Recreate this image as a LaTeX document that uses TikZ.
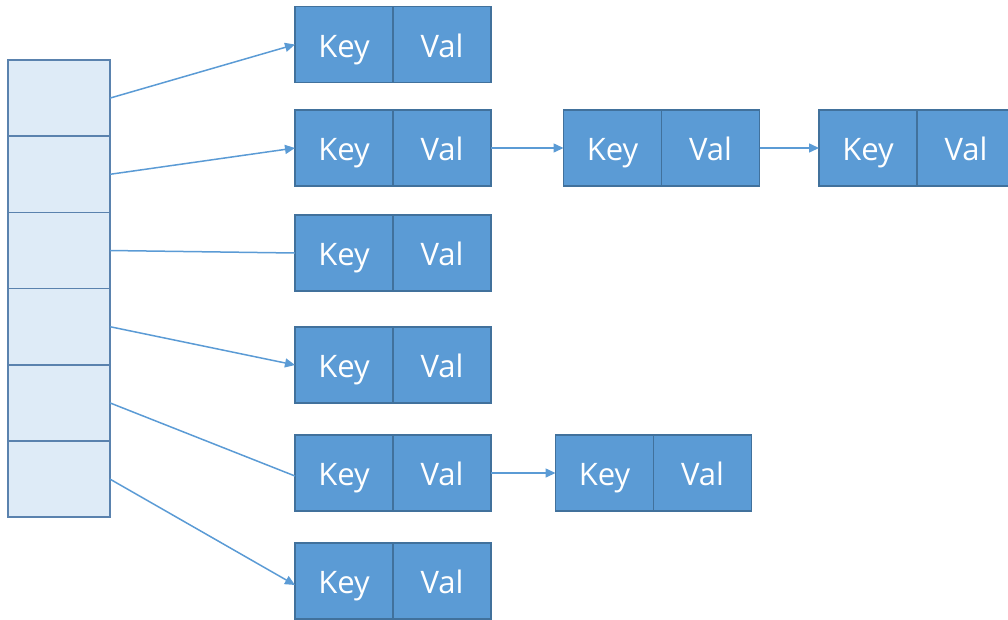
\documentclass[tikz,border=0pt]{standalone}
\usepackage{fontspec}
\setmainfont{Open Sans}
\usetikzlibrary{arrows.meta}
\definecolor{boxfill}{HTML}{5B9BD5}
\definecolor{boxline}{HTML}{41719C}
\definecolor{arrfill}{HTML}{DEEBF7}
\definecolor{arrline}{HTML}{5A82AE}
\definecolor{conn}{HTML}{5B9BD5}
\tikzset{
  cell/.style={draw=boxline, fill=boxfill, line width=1.2pt, minimum width=98pt, minimum height=76pt,
    inner sep=0pt, outer sep=0pt, text=white, font=\fontsize{31}{34}\selectfont,
    text height=30pt, text depth=5pt},
  slot/.style={draw=arrline, fill=arrfill, line width=1.5pt, minimum width=102pt, minimum height=76.2pt,
    inner sep=0pt, outer sep=0pt},
  link/.style={draw=conn, line width=1.5pt},
  linka/.style={link, -{Triangle[length=10pt,width=9pt]}}
}
\begin{document}
\begin{tikzpicture}[x=1pt,y=-1pt]
\useasboundingbox (0,0) rectangle (1008,619);
% array slots
\foreach \i/\t in {1/60,2/136.2,3/212.4,4/288.6,5/364.8,6/441}{
  \node[slot] (a\i) at (59,\t+38.1) {};
}
% first-column buckets
\foreach \i/\t in {1/6.5,2/110,3/215,4/327,5/435,6/543}{
  \node[cell] (k\i) at (344,\t+38) {Key};
  \node[cell] (v\i) at (442,\t+38) {Val};
}
% chain on row 2
\node[cell] (k22) at (612.5,148) {Key};
\node[cell] (v22) at (710.5,148) {Val};
\node[cell] (k23) at (868,148) {Key};
\node[cell] (v23) at (966,148) {Val};
% chain on row 5
\node[cell] (k52) at (604.5,473) {Key};
\node[cell] (v52) at (702.5,473) {Val};
% connectors
\draw[linka] (a1.east) -- (k1.west);
\draw[linka] (a2.east) -- (k2.west);
\draw[link]  (a3.east) -- (k3.west);
\draw[linka] (a4.east) -- (k4.west);
\draw[link]  (a5.east) -- ([yshift=-3pt]k5.west);
\draw[linka] (a6.east) -- ([yshift=-4pt]k6.west);
\draw[linka] (v2.east) -- (k22.west);
\draw[linka] (v22.east) -- (k23.west);
\draw[linka] (v5.east) -- (k52.west);
\end{tikzpicture}
\end{document}
